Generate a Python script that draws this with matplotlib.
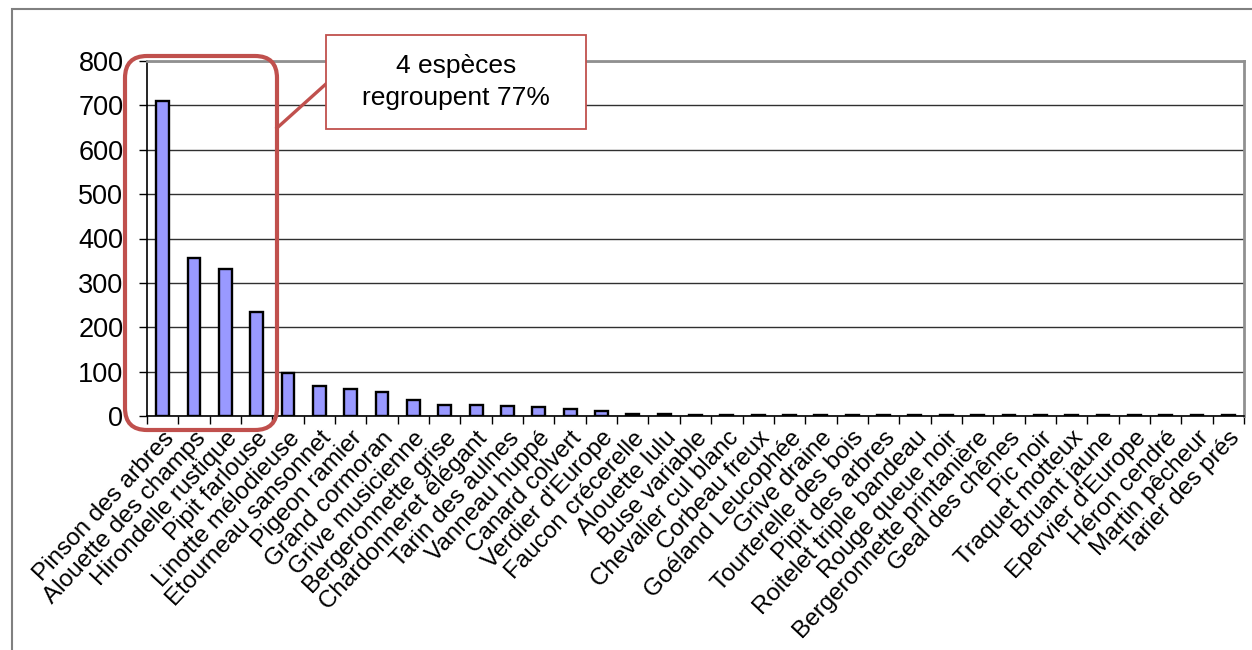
import matplotlib
matplotlib.use("Agg")
import matplotlib.pyplot as plt
from matplotlib.patches import FancyBboxPatch, Rectangle
from matplotlib.lines import Line2D
from matplotlib.ticker import FixedLocator, NullFormatter
import numpy as np

plt.rcParams['font.family'] = ['Liberation Sans', 'DejaVu Sans']

species = [
    "Pinson des arbres", "Alouette des champs", "Hirondelle rustique",
    "Pipit farlouse", "Linotte mélodieuse", "Etourneau sansonnet",
    "Pigeon ramier", "Grand cormoran", "Grive musicienne",
    "Bergeronnette grise", "Chardonneret élégant", "Tarin des aulnes",
    "Vanneau huppé", "Canard colvert", "Verdier d'Europe",
    "Faucon crécerelle", "Alouette lulu", "Buse variable",
    "Chevalier cul blanc", "Corbeau freux", "Goéland Leucophée",
    "Grive draine", "Tourterelle des bois", "Pipit des arbres",
    "Roitelet triple bandeau", "Rouge queue noir",
    "Bergeronnette printanière", "Geal des chênes", "Pic noir",
    "Traquet motteux", "Bruant jaune", "Epervier d'Europe",
    "Héron cendré", "Martin pêcheur", "Tarier des prés",
]
counts = [
    710, 356, 331, 235, 96, 68, 60, 54, 35, 25, 25, 22, 20, 16, 12,
    5, 4, 3, 3, 3, 3, 3, 3, 3, 2, 2, 2, 2, 2, 2, 2, 2, 2, 2, 2,
]
y_ticks = [0, 100, 200, 300, 400, 500, 600, 700, 800]
callout_text = "4 espèces\nregroupent 77%"

red = "#C0504D"
fig = plt.figure(figsize=(12.52, 6.50), dpi=100)
fig.patch.set_facecolor("white")

# outer chart frame (runs off the right and bottom edges)
frame = Rectangle((0.12, -0.5), 14, 6.91, transform=fig.dpi_scale_trans,
                  fill=False, edgecolor="#808080", linewidth=1.5, zorder=0)
fig.patches.append(frame)

ax = fig.add_axes([147 / 1252, 1 - 416 / 650, (1244 - 147) / 1252, (416 - 61) / 650])
x = np.arange(len(species))
ax.bar(x, counts, width=0.41, color="#9999FF", edgecolor="black",
       linewidth=1.7, zorder=3)

ax.set_xlim(-0.5, len(species) - 0.5)
ax.set_ylim(0, 800)
ax.set_yticks(y_ticks)
ax.set_yticklabels([str(v) for v in y_ticks], fontsize=19.5)
ax.yaxis.grid(True, color="#303030", linewidth=1.0, zorder=0)
ax.set_axisbelow(True)

# category labels at bar centres, tick marks on category boundaries
ax.set_xticks(x)
ax.set_xticklabels(species, rotation=47, ha="right", va="top",
                   rotation_mode="anchor", fontsize=17.5)
ax.tick_params(axis="x", which="major", length=0, pad=8)
ax.xaxis.set_minor_locator(FixedLocator(np.arange(-0.5, len(species), 1.0)))
ax.xaxis.set_minor_formatter(NullFormatter())
ax.tick_params(axis="x", which="minor", length=6, width=1.0, direction="out",
               color="black")
ax.tick_params(axis="y", length=6, width=1.0, direction="out", pad=11)

for side in ("top", "right"):
    ax.spines[side].set_color("#909090")
    ax.spines[side].set_linewidth(2.0)
for side in ("left", "bottom"):
    ax.spines[side].set_color("black")
    ax.spines[side].set_linewidth(1.2)

# highlight around the four dominant species
hl = FancyBboxPatch((1.25 + 0.2, 2.20 + 0.2), 1.52 - 0.4, 3.74 - 0.4,
                    boxstyle="round,pad=0.2,rounding_size=0.22",
                    transform=fig.dpi_scale_trans, fill=False,
                    edgecolor=red, linewidth=3.0, zorder=10)
fig.patches.append(hl)

# connector and callout box
conn = Line2D([2.77, 3.27], [5.22, 5.67], transform=fig.dpi_scale_trans,
              color=red, linewidth=2.4, zorder=10)
fig.lines.append(conn)
box = Rectangle((3.26, 5.21), 2.60, 0.94, transform=fig.dpi_scale_trans,
                facecolor="white", edgecolor=red, linewidth=1.3, zorder=11)
fig.patches.append(box)
fig.text(4.56, 5.68, callout_text, transform=fig.dpi_scale_trans,
         ha="center", va="center", fontsize=19, linespacing=1.4, zorder=12)

fig.savefig("out.png", dpi=100, facecolor="white")
